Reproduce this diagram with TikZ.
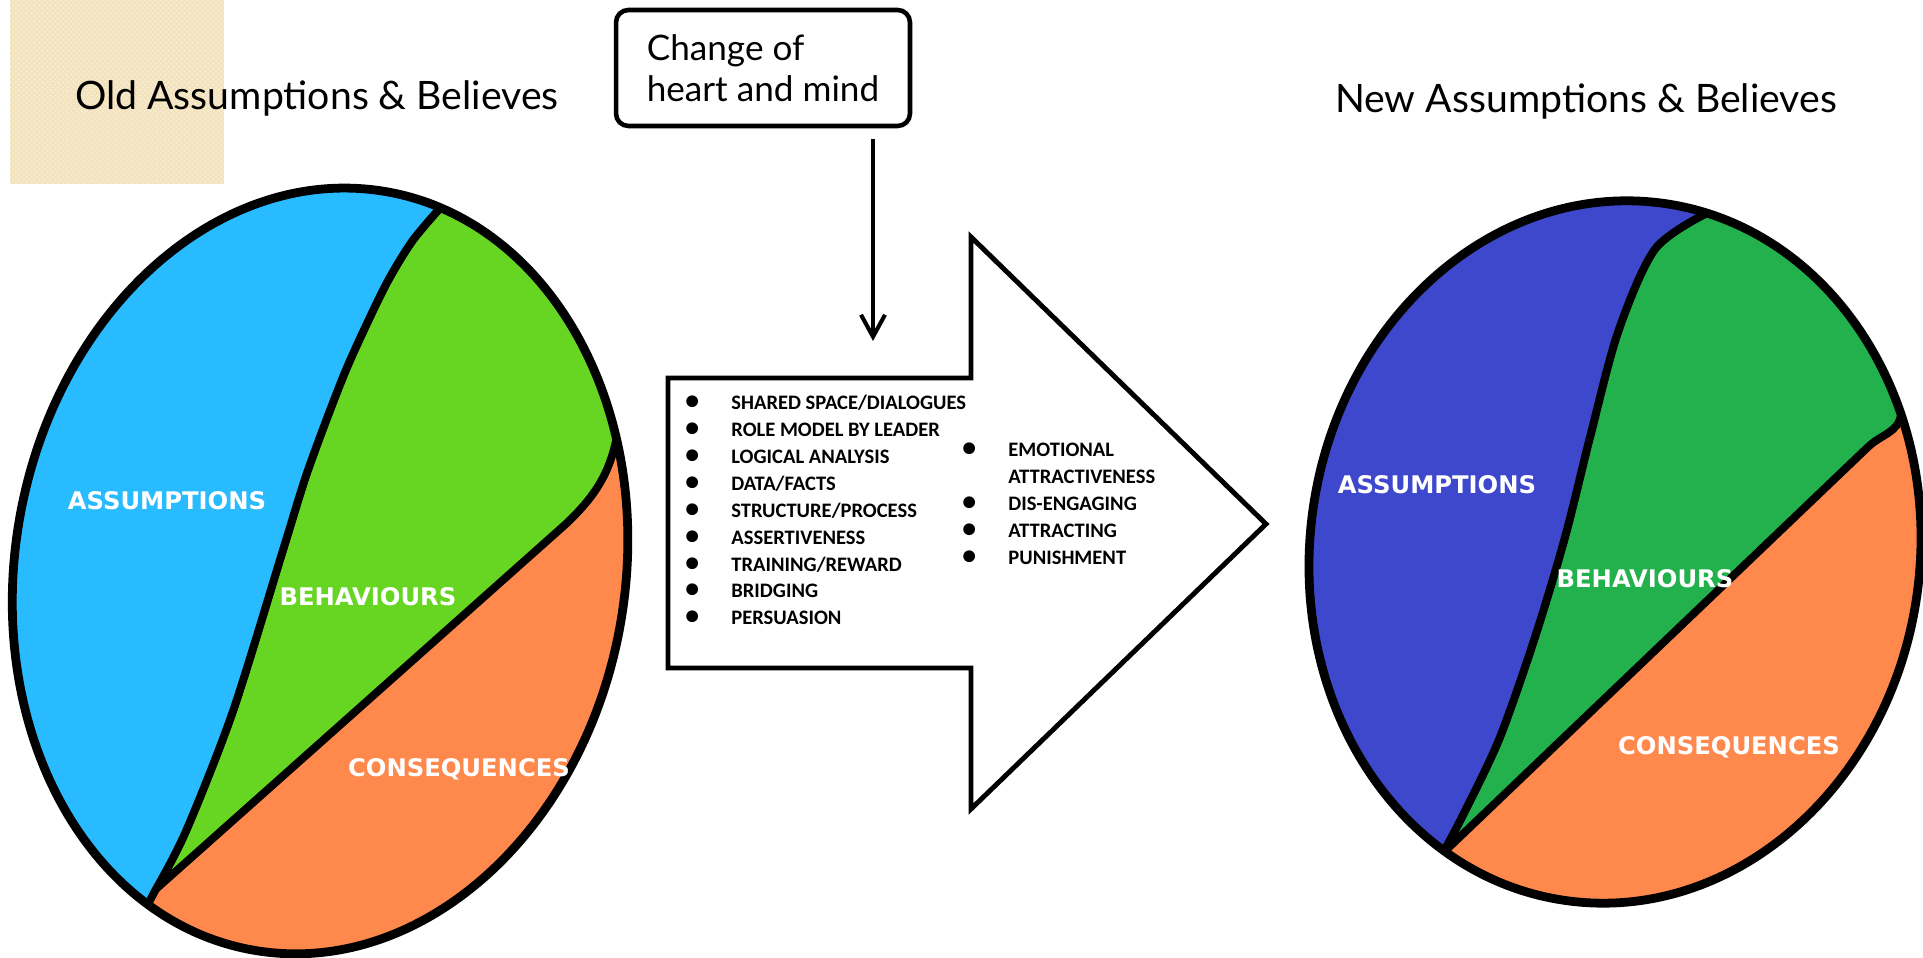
\documentclass[tikz,border=0pt]{standalone}
\usepackage{fontspec}
\usepackage{graphicx}
\newfontfamily\titlefont{Lato}
\newfontfamily\listfont{Carlito}
\newfontfamily\piefont{DejaVu Sans}
\usetikzlibrary{arrows.meta,patterns}
\definecolor{oldblue}{RGB}{41,187,255}
\definecolor{oldgreen}{RGB}{103,214,35}
\definecolor{newblue}{RGB}{62,72,204}
\definecolor{newgreen}{RGB}{34,177,76}
\definecolor{pieorange}{RGB}{255,137,77}
\definecolor{paper}{RGB}{243,227,190}
\newcommand\tacticdot{\makebox[26.2pt][l]{\scalebox{1.35}{\textbullet}}}
\tikzset{
  heading/.style={
    font=\titlefont\fontsize{22.3}{26}\selectfont,
    inner sep=0pt
  },
  notebox/.style={
    draw=black,
    line width=2.6pt,
    rounded corners=7pt,
    align=left,
    minimum width=5.88cm,
    minimum height=2.32cm,
    font=\titlefont\fontsize{20}{23.3}\selectfont
  },
  droparrow/.style={
    -{Straight Barb[length=4.4mm,width=4.8mm]},
    line width=2.3pt
  },
  bigarrow/.style={
    draw=black,
    line width=2.8pt,
    fill=white,
    line join=miter
  },
  tactics/.style={
    font=\listfont\bfseries\fontsize{11.7}{15.3}\selectfont,
    align=left,
    inner sep=0pt,
    anchor=north west
  },
  pieedge/.style={
    draw=black,
    line width=5pt
  },
  pieslice/.style={
    draw=black,
    line width=4.5pt,
    line join=round
  },
  pielabel/.style={
    font=\piefont\bfseries\fontsize{13.8}{15}\selectfont,
    text=white,
    inner sep=0pt
  }
}

\begin{document}
\begin{tikzpicture}[x=0.02cm,y=0.02cm]
  \useasboundingbox (0,0) rectangle (1923,957);
  % paper corner
  \fill[paper] (10,773) rectangle (224,957);
  \fill[pattern=crosshatch dots, pattern color=white!55!paper] (10,773) rectangle (224,957);

  % headings
  \node[heading] (oldtitle) at (317,859) {Old Assumptions \& Believes};
  \node[heading] (newtitle) at (1586,856) {New Assumptions \& Believes};

  % change box and drop arrow
  \node[notebox] (change) at (763,889) {Change of\\heart and mind};
  \coordinate (drop) at (873,616);
  \draw[droparrow, shorten <=0.22cm] (change.south -| drop) -- (drop);

  % big arrow
  \draw[bigarrow] (668,579) -- (971,579) -- (971,720) -- (1266,433)
    -- (971,148) -- (971,289) -- (668,289) -- cycle;
  \node[tactics] (leftlist) at (685,562) {%
    \tacticdot SHARED SPACE/DIALOGUES\\
    \tacticdot ROLE MODEL BY LEADER\\
    \tacticdot LOGICAL ANALYSIS\\
    \tacticdot DATA/FACTS\\
    \tacticdot STRUCTURE/PROCESS\\
    \tacticdot ASSERTIVENESS\\
    \tacticdot TRAINING/REWARD\\
    \tacticdot BRIDGING\\
    \tacticdot PERSUASION};
  \node[tactics] (rightlist) at (962,514) {%
    \tacticdot EMOTIONAL\\
    \hspace*{26.2pt}ATTRACTIVENESS\\
    \tacticdot DIS-ENGAGING\\
    \tacticdot ATTRACTING\\
    \tacticdot PUNISHMENT};

  % old pie
  \coordinate (oldc) at (320,386);
  \begin{scope}
    \clip[rotate around={-10:(oldc)}] (oldc) ellipse [x radius=305, y radius=385];
    \fill[pieorange] (0,0) rectangle (700,800);
    \filldraw[pieslice, fill=oldgreen] plot[smooth] coordinates
      {(441,750) (413,717) (390,680) (370,640) (343,580) (308,487) (283,407)
       (233,246) (186,126) (156,68)}
      -- (567,434) to[out=44,in=-100] (618,526) -- (720,526) -- (720,820)
      -- (441,820) -- cycle;
    \filldraw[pieslice, fill=oldblue] plot[smooth] coordinates
      {(441,750) (413,717) (390,680) (370,640) (343,580) (308,487) (283,407)
       (233,246) (186,126) (156,68)}
      -- (120,0) -- (-30,0) -- (-30,820) -- (441,820) -- cycle;
  \end{scope}
  \draw[pieedge, rotate around={-10:(oldc)}] (oldc) ellipse [x radius=305, y radius=385];
  \node[pielabel] (oldass) at (167,456) {ASSUMPTIONS};
  \node[pielabel] (oldbeh) at (368,360) {BEHAVIOURS};
  \node[pielabel] (oldcon) at (459,188) {CONSEQUENCES};

  % new pie
  \coordinate (newc) at (1615,405);
  \begin{scope}
    \clip[rotate around={-8:(newc)}] (newc) ellipse [x radius=305, y radius=352];
    \fill[pieorange] (1250,0) rectangle (1960,800);
    \filldraw[pieslice, fill=newgreen] plot[smooth] coordinates
      {(1707,744) (1655,708) (1618,625) (1590,520) (1565,420) (1535,320)
       (1500,220) (1466,148) (1443,104)}
      -- (1868,510) to[out=44,in=-100] (1901,542) -- (2000,542) -- (2000,820)
      -- (1707,820) -- cycle;
    \filldraw[pieslice, fill=newblue] plot[smooth] coordinates
      {(1707,744) (1655,708) (1618,625) (1590,520) (1565,420) (1535,320)
       (1500,220) (1466,148) (1443,104)}
      -- (1410,30) -- (1280,30) -- (1280,820) -- (1707,820) -- cycle;
  \end{scope}
  \draw[pieedge, rotate around={-8:(newc)}] (newc) ellipse [x radius=305, y radius=352];
  \node[pielabel] (newass) at (1437,472) {ASSUMPTIONS};
  \node[pielabel] (newbeh) at (1645,378) {BEHAVIOURS};
  \node[pielabel] (newcon) at (1729,210) {CONSEQUENCES};
\end{tikzpicture}
\end{document}
